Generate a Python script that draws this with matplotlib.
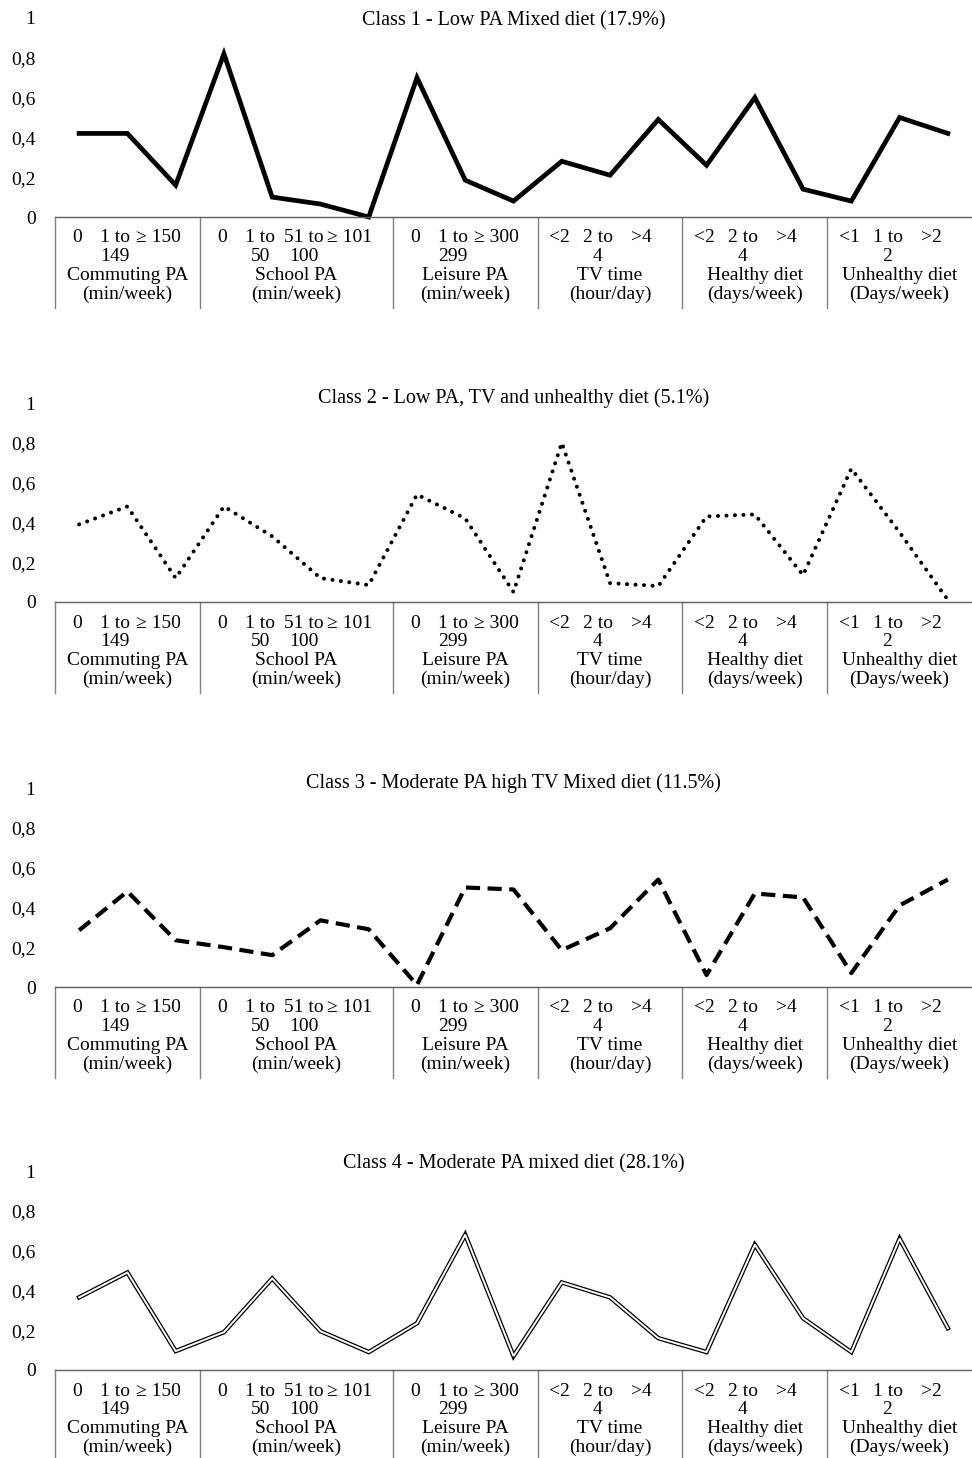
import numpy as np
import matplotlib
matplotlib.use("Agg")
import matplotlib.pyplot as plt

plt.rcParams['font.family'] = ['Liberation Serif', 'DejaVu Serif']

# categorias (eje x) y grupos
categorias = ["0", "1 to\n149", "≥ 150",
              "0", "1 to\n50", "51 to\n100", "≥ 101",
              "0", "1 to\n299", "≥ 300",
              "<2", "2 to\n4", ">4",
              "<2", "2 to\n4", ">4",
              "<1", "1 to\n2", ">2"]
grupos = ["Commuting PA\n(min/week)", "School PA\n(min/week)", "Leisure PA\n(min/week)",
          "TV time\n(hour/day)", "Healthy diet\n(days/week)", "Unhealthy diet\n(Days/week)"]
tam_grupos = [3, 4, 3, 3, 3, 3]

titulos = ["Class 1 - Low PA Mixed diet (17.9%)",
           "Class 2 - Low PA, TV and unhealthy diet (5.1%)",
           "Class 3 - Moderate PA high TV Mixed diet (11.5%)",
           "Class 4 - Moderate PA mixed diet (28.1%)"]

clase1 = [0.42, 0.42, 0.16, 0.82, 0.10, 0.065, 0.0, 0.70, 0.185, 0.08,
          0.28, 0.21, 0.49, 0.26, 0.60, 0.14, 0.08, 0.50, 0.42]
clase2 = [0.39, 0.48, 0.12, 0.48, 0.33, 0.12, 0.085, 0.54, 0.42, 0.05,
          0.80, 0.095, 0.08, 0.43, 0.44, 0.135, 0.67, 0.35, 0.01]
clase3 = [0.285, 0.48, 0.235, 0.20, 0.16, 0.335, 0.29, 0.01, 0.50, 0.49,
          0.185, 0.295, 0.54, 0.06, 0.47, 0.45, 0.07, 0.41, 0.54]
clase4 = [0.365, 0.49, 0.095, 0.19, 0.46, 0.195, 0.09, 0.235, 0.68, 0.07,
          0.44, 0.365, 0.16, 0.09, 0.63, 0.26, 0.09, 0.66, 0.21]
clases = [clase1, clase2, clase3, clase4]

# posicion de cada panel (pixel del cero en y)
W, H = 972, 1458
ceros = [217, 602, 987, 1370]
alto = 199
izq = 55
# altura del titulo respecto al 1 del eje
y_titulo = [0.985, 1.025, 1.025, 1.035]

# desplazamiento de las etiquetas dentro de cada grupo (en unidades de categoria)
desp = [-0.04, -0.25, -0.35, -0.4]

fig = plt.figure(figsize=(W / 100, H / 100), dpi=100)

x = np.arange(len(categorias))
bordes = np.concatenate([[0], np.cumsum(tam_grupos)]) - 0.5

for k in range(4):
    y0 = ceros[k]
    ax = fig.add_axes([izq / W, (H - y0) / H, (W - izq) / W, alto / H])
    ax.set_xlim(-0.5, len(categorias) - 0.5)
    ax.set_ylim(0, 1)
    for s in ['top', 'right', 'left']:
        ax.spines[s].set_visible(False)
    ax.spines['bottom'].set_color('#606060')
    ax.spines['bottom'].set_linewidth(1.0)
    ax.set_xticks([])
    ax.set_yticks([0, 0.2, 0.4, 0.6, 0.8, 1])
    ax.set_yticklabels(["0", "0,2", "0,4", "0,6", "0,8", "1"])
    ax.tick_params(axis='y', length=0, pad=14, labelsize=14)

    y = clases[k]
    if k == 0:
        ax.plot(x, y, color='black', lw=3.4, solid_joinstyle='miter', clip_on=False)
    elif k == 1:
        ax.plot(x, y, color='black', lw=2.9, linestyle=(0, (0.01, 2.1)),
                dash_capstyle='round', clip_on=False)
    elif k == 2:
        ax.plot(x, y, color='black', lw=3.0, linestyle=(0, (3.4, 1.8)),
                dash_capstyle='butt', clip_on=False)
    else:
        ax.plot(x, y, color='black', lw=3.2, solid_joinstyle='miter', clip_on=False)
        ax.plot(x, y, color='white', lw=1.4, solid_joinstyle='miter', clip_on=False)

    ax.text(0.5, y_titulo[k], titulos[k], transform=ax.transAxes, ha='center', va='center',
            fontsize=14.5)

    tr = ax.get_xaxis_transform()
    # separadores de grupos
    for b in bordes[:-1]:
        ax.plot([b, b], [0, -91 / alto], color='#808080', lw=1.0, transform=tr, clip_on=False)

    # etiquetas de categorias
    i = 0
    for g, n in enumerate(tam_grupos):
        for j in range(n):
            partes = categorias[i].split("\n")
            xp = i + desp[j]
            ax.text(xp, -21 / alto, partes[0], transform=tr, ha='center', va='center', fontsize=14)
            if len(partes) > 1:
                ax.text(xp, -39.5 / alto, partes[1], transform=tr, ha='center', va='center', fontsize=14)
            i += 1
        centro = (bordes[g] + bordes[g + 1]) / 2
        nombre, unidad = grupos[g].split("\n")
        ax.text(centro, -58.5 / alto, nombre, transform=tr, ha='center', va='center', fontsize=14)
        ax.text(centro, -77.5 / alto, unidad, transform=tr, ha='center', va='center', fontsize=14)

fig.savefig("out.png", dpi=100)
